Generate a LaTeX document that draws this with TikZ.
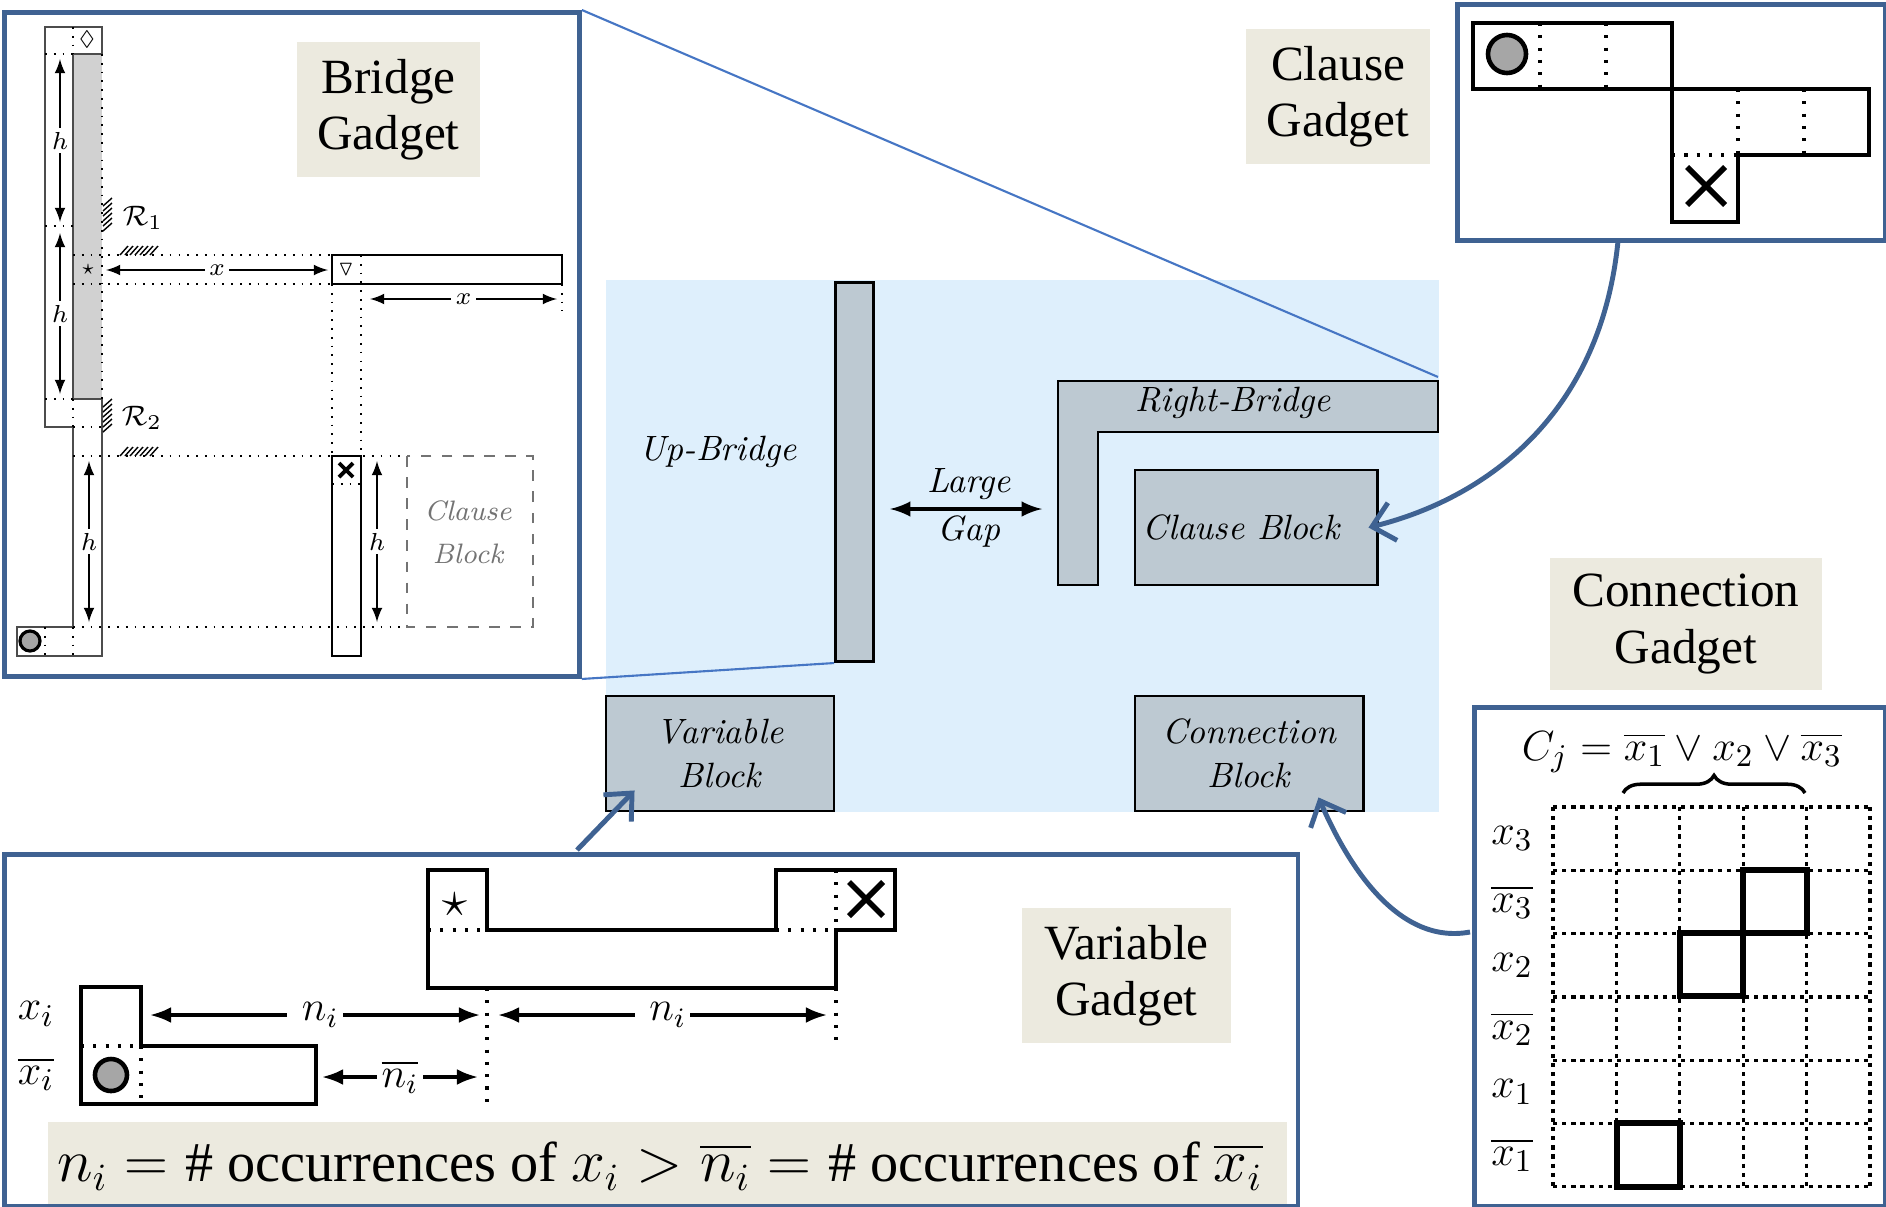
\documentclass[tikz,border=0pt]{standalone}
\usepackage{fontspec}
\usepackage{amssymb}
\usetikzlibrary{calc,arrows.meta,decorations.pathreplacing}
\newfontfamily\tagfont{Liberation Serif}
\definecolor{frameblue}{RGB}{63,98,146}
\definecolor{zoomblue}{RGB}{70,118,196}
\definecolor{areablue}{RGB}{222,239,252}
\definecolor{blockgray}{RGB}{189,201,210}
\definecolor{tagbeige}{RGB}{236,234,223}
\newcommand{\cote}[4][dim]{\draw[#1] (#2) -- node[fill=white, inner sep=1.2pt] {#4} (#3)}
\newcommand{\croix}[3]{\draw[line width=#3] ($(#1)+(-#2,-#2)$) -- ($(#1)+(#2,#2)$) ($(#1)+(-#2,#2)$) -- ($(#1)+(#2,-#2)$)}
\tikzset{
  frame/.style={draw=frameblue, line width=1.3pt, inner sep=0pt, anchor=north west},
  tag/.style={fill=tagbeige, inner sep=0pt, align=center, font=\tagfont\fontsize{14}{16}\selectfont},
  block/.style={draw=black, line width=0.8pt, fill=blockgray, inner sep=0pt, align=center},
  blocklabel/.style={font=\fontsize{10}{12.5}\selectfont\itshape, align=center},
  gadget/.style={draw=black, line width=1.1pt},
  dots/.style={dotted, line width=0.5pt},
  bigdots/.style={dash pattern=on 0.9pt off 2.6pt, line width=1pt},
  griddots/.style={dash pattern=on 1.2pt off 1.4pt, line width=0.9pt},
  fine/.style={draw=black!70, line width=0.45pt},
  dim/.style={latex-latex, line width=0.4pt, font=\fontsize{7}{8}\selectfont},
  dimbig/.style={{Latex[length=6pt]}-{Latex[length=6pt]}, line width=0.9pt, font=\fontsize{12}{14}\selectfont},
  hatch/.style={line width=0.4pt},
  sym/.style={inner sep=0pt, font=\fontsize{6}{6}\selectfont},
  zoomline/.style={draw=zoomblue, line width=0.6pt},
  callout/.style={draw=frameblue, line width=1.4pt, -{Straight Barb[length=6pt, width=11pt, line width=1.4pt]}}
}

\begin{document}
\begin{tikzpicture}[x=0.01cm, y=-0.01cm]
  \useasboundingbox (0,0) rectangle (1886,1206);

  \fill[areablue] (606,280) rectangle (1439,812);
  \fill[tagbeige] (48,1122) rectangle (1287,1204);

  \node[frame, minimum width=5.75cm, minimum height=6.64cm] (bridgeframe) at (2,10) {};
  \node[frame, minimum width=4.28cm, minimum height=2.36cm] (clauseframe) at (1455,2) {};
  \node[frame, minimum width=4.11cm, minimum height=4.99cm] (connframe) at (1472,705) {};
  \node[frame, minimum width=12.93cm, minimum height=3.52cm] (varframe) at (2,852) {};

  \node[block, minimum width=0.38cm, minimum height=3.79cm, anchor=north west] (upbridge) at (834,281) {};
  \draw[block] (1058,381) -- (1438,381) -- (1438,432) -- (1098,432) -- (1098,585) -- (1058,585) -- cycle;
  \node[block, blocklabel, minimum width=2.42cm, minimum height=1.15cm] (clauseblock) at (1256,527.5) {Clause Block\hspace{8.5pt}};
  \node[block, blocklabel, minimum width=2.28cm, minimum height=1.15cm] (varblock) at (720,753.5) {Variable\\Block};
  \node[block, blocklabel, minimum width=2.28cm, minimum height=1.15cm] (connblock) at (1249,753.5) {Connection\\Block};
  \node[blocklabel] (uplabel) at (718,452) {Up-Bridge};
  \node[blocklabel] (rightlabel) at (1233,403) {Right-Bridge};
  \node[blocklabel] (largelabel) at (969,484) {Large};
  \node[blocklabel] (gaplabel) at (969,532) {Gap};
  \coordinate (gapleft) at (890,509);
  \coordinate (gapright) at (1042,509);
  \draw[latex-latex, line width=1pt] (gapleft) -- (gapright);

  \coordinate (rbcorner) at (1438,377);
  \draw[zoomline] (bridgeframe.north east) -- (rbcorner);
  \draw[zoomline] (bridgeframe.south east) -- (upbridge.south west);

  \node[tag, minimum width=1.83cm, minimum height=1.35cm] (bridgetag) at (388.5,109.5) {Bridge\\Gadget};
  \node[tag, minimum width=1.84cm, minimum height=1.35cm] (clausetag) at (1338,96.5) {Clause\\Gadget};
  \node[tag, minimum width=2.72cm, minimum height=1.32cm] (conntag) at (1686,624) {Connection\\Gadget};
  \node[tag, minimum width=2.09cm, minimum height=1.35cm] (vartag) at (1126.5,975.5) {Variable\\Gadget};

  \coordinate (clausefoot) at (1618,241);
  \draw[callout] (clausefoot) .. controls (1600,420) and (1480,500) .. ([xshift=-1mm]clauseblock.east);
  \coordinate (varfoot) at (577,850);
  \draw[callout] (varfoot) -- ($(varblock.south west)+(30,-22)$);
  \coordinate (connfoot) at (1470,932);
  \draw[callout] (connfoot) .. controls (1400,945) and (1350,870) .. ($(connblock.south east)+(-46,-15)$);

  % bridge gadget
  \fill[black!18] (73,54) rectangle (102,399);
  \draw[fine] (73,627) -- (73,427) -- (45,427) -- (45,27) -- (102,27) -- (102,54);
  \draw[fine] (102,399) -- (102,656) -- (17,656) -- (17,627) -- (73,627);
  \draw[fine] (102,54) -- (73,54) -- (73,399) -- (102,399);
  \draw[dots] (73,27) -- (73,54) (45,54) -- (73,54) (102,54) -- (102,399) (45,226) -- (73,226)
    (45,399) -- (73,399) (73,399) -- (73,427) (73,427) -- (102,427) (45,627) -- (45,656) (73,627) -- (73,656);
  \draw[dots] (73,255) -- (332,255) (73,284) -- (332,284);
  \draw[dots] (332,284) -- (332,456) (361,255) -- (361,456);
  \draw[dots] (73,456) -- (407,456) (73,627) -- (407,627);
  \draw[dots] (562,284) -- (562,311);
  \draw[dots] (332,484) -- (361,484);
  \draw[line width=0.8pt] (332,255) rectangle (562,284);
  \draw[line width=0.8pt] (332,456) rectangle (361,656);
  \node[sym] (diamond) at (87,40) {$\Diamond$};
  \node[sym] (starcell) at (88,270) {$\star$};
  \node[sym] (tricell) at (346,270) {$\triangledown$};
  \croix{346,470}{7}{1.1pt};
  \draw[line width=0.9pt, fill=black!35] (30,641) circle[radius=1mm];
  \cote{60,59}{60,222}{$h$};
  \cote{60,233}{60,394}{$h$};
  \cote{89,461}{89,622}{$h$};
  \cote{377,461}{377,622}{$h$};
  \cote{106,270}{328,270}{$x$};
  \cote{370,299}{557,299}{$x$};
  \foreach \k in {0,...,5} \draw[hatch] (103,206+5*\k) -- (112,198+5*\k);
  \foreach \k in {0,...,6} \draw[hatch] (120+5*\k,255) -- (128+5*\k,246);
  \foreach \k in {0,...,5} \draw[hatch] (103,407+5*\k) -- (112,399+5*\k);
  \foreach \k in {0,...,6} \draw[hatch] (120+5*\k,456) -- (128+5*\k,447);
  \node[font=\fontsize{8}{8}\selectfont] (rone) at (143,218) {$\mathcal{R}_1$};
  \node[font=\fontsize{8}{8}\selectfont] (rtwo) at (142,418) {$\mathcal{R}_2$};
  \draw[dashed, draw=black!55, line width=0.6pt] (407,456) rectangle (533,627);
  \node[text=black!55, font=\fontsize{8}{12.2}\selectfont\itshape, align=center] (ghostclause) at (468,532) {Clause\\Block};

  % clause gadget
  \draw[gadget] (1473,23) rectangle (1672,89);
  \draw[gadget] (1672,89) -- (1869,89) -- (1869,155) -- (1738,155) -- (1738,222) -- (1672,222) -- cycle;
  \draw[bigdots] (1540,23) -- (1540,89) (1606,23) -- (1606,89) (1738,89) -- (1738,155) (1804,89) -- (1804,155) (1672,155) -- (1738,155);
  \draw[line width=1.3pt, fill=black!35] (1507,54) circle[radius=1.9mm];
  \croix{1706,186}{19}{1.6pt};

  % connection gadget
  \node[font=\fontsize{13}{15}\selectfont, anchor=base] (clauseformula) at (1682,760) {$C_j = \overline{x_1} \vee x_2 \vee \overline{x_3}$};
  \draw[decorate, decoration={brace, amplitude=5pt}, line width=1pt] (1623,793) -- (1805,793);
  \foreach \c in {0,...,5} \draw[griddots] (1553+63.4*\c,807) -- (1553+63.4*\c,1187);
  \foreach \r in {0,...,6} \draw[griddots] (1553,807+63.3*\r) -- (1870,807+63.3*\r);
  \draw[line width=1.5pt] (1743,870) rectangle (1807,933);
  \draw[line width=1.5pt] (1680,933) rectangle (1743,996);
  \draw[line width=1.5pt] (1617,1123) rectangle (1680,1187);
  \foreach \lab [count=\r from 0] in {x_3,\overline{x_3},x_2,\overline{x_2},x_1,\overline{x_1}}
    \node[font=\fontsize{13}{13}\selectfont] (row\r) at (1512,838.6+63.3*\r) {$\lab$};

  % variable gadget
  \draw[gadget] (428,870) -- (487,870) -- (487,930) -- (776,930) -- (776,870) -- (895,870) -- (895,930) -- (836,930) -- (836,988) -- (428,988) -- cycle;
  \draw[bigdots] (428,930) -- (487,930) (776,930) -- (836,930) (836,870) -- (836,930);
  \node[inner sep=0pt, font=\fontsize{15}{15}\selectfont] (varstar) at (455,905) {$\star$};
  \croix{866,899}{17}{1.6pt};
  \draw[gadget] (81,987) -- (141,987) -- (141,1046) -- (316,1046) -- (316,1104) -- (81,1104) -- cycle;
  \draw[bigdots] (81,1046) -- (141,1046) (141,1046) -- (141,1104);
  \draw[line width=1.3pt, fill=black!35] (111,1075) circle[radius=1.6mm];
  \draw[bigdots] (487,988) -- (487,1104) (836,988) -- (836,1044);
  \cote[dimbig]{150,1015}{480,1015}{\hspace{3pt}$n_i$\hspace{3pt}};
  \cote[dimbig]{498,1015}{827,1015}{\hspace{3pt}$n_i$\hspace{3pt}};
  \cote[dimbig]{322,1077}{478,1077}{$\overline{n_i}$};
  \node[font=\fontsize{13}{13}\selectfont] (xlab) at (36,1014) {$x_i$};
  \node[font=\fontsize{13}{13}\selectfont] (xbarlab) at (36,1074) {$\overline{x_i}$};
  \node[font=\tagfont\fontsize{16}{18}\selectfont] (occtext) at (660,1166)
    {$n_i = {}$\# occurrences of $x_i > \overline{n_i} = {}$\# occurrences of $\overline{x_i}$};
\end{tikzpicture}
\end{document}
